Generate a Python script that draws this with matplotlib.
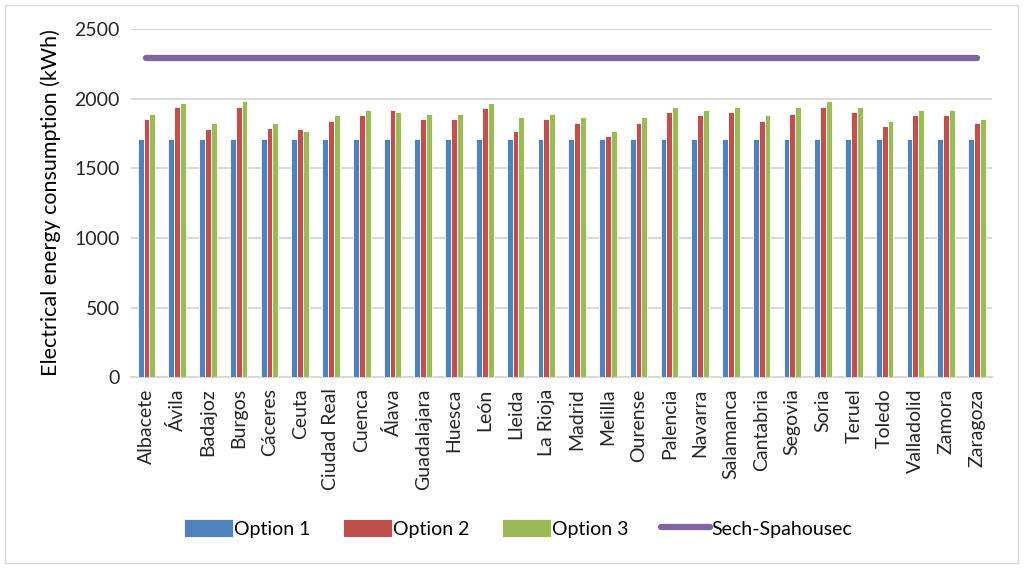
import numpy as np
import matplotlib
matplotlib.use("Agg")
import matplotlib.pyplot as plt
from matplotlib.patches import Rectangle

plt.rcParams['font.family'] = ['Lato', 'DejaVu Sans']

cities = ["Albacete", "Ávila", "Badajoz", "Burgos", "Cáceres", "Ceuta", "Ciudad Real",
          "Cuenca", "Álava", "Guadalajara", "Huesca", "León", "Lleida", "La Rioja",
          "Madrid", "Melilla", "Ourense", "Palencia", "Navarra", "Salamanca",
          "Cantabria", "Segovia", "Soria", "Teruel", "Toledo", "Valladolid",
          "Zamora", "Zaragoza"]
option1 = [1710] * len(cities)
option2 = [1853, 1942, 1779, 1942, 1791, 1779, 1841, 1880, 1916, 1853, 1853, 1930,
           1765, 1853, 1827, 1729, 1827, 1904, 1880, 1904, 1841, 1892, 1942, 1904,
           1803, 1880, 1880, 1827]
option3 = [1892, 1966, 1827, 1981, 1827, 1765, 1880, 1916, 1904, 1892, 1892, 1966,
           1865, 1892, 1865, 1765, 1865, 1942, 1916, 1942, 1880, 1942, 1981, 1942,
           1841, 1916, 1916, 1853]
sech = [2290] * len(cities)

c_blue = "#4F81BD"
c_red = "#C0504D"
c_green = "#9BBB59"
c_purple = "#8064A2"

fig = plt.figure(figsize=(10.24, 5.68), dpi=100)
ax = fig.add_axes([0.128, 0.336, 0.841, 0.613])

x = np.arange(len(cities))
w = 0.19
b1 = ax.bar(x - w, option1, w, color=c_blue, edgecolor="white", linewidth=0.6, label="Option 1", zorder=3)
b2 = ax.bar(x, option2, w, color=c_red, edgecolor="white", linewidth=0.6, label="Option 2", zorder=3)
b3 = ax.bar(x + w, option3, w, color=c_green, edgecolor="white", linewidth=0.6, label="Option 3", zorder=3)
ln, = ax.plot(x, sech, color=c_purple, linewidth=4.5, solid_capstyle="round", label="Sech-Spahousec", zorder=4)

ax.set_xlim(-0.5, len(cities) - 0.5)
ax.set_ylim(0, 2500)
ax.set_yticks(np.arange(0, 2501, 500))
ax.yaxis.grid(True, color="#d9d9d9", linewidth=1.5, zorder=0)
ax.set_axisbelow(True)
for s in ["top", "right", "left"]:
    ax.spines[s].set_visible(False)
ax.spines["bottom"].set_color("#d9d9d9")
ax.spines["bottom"].set_linewidth(1.5)
ax.tick_params(axis="both", length=0, labelsize=14, colors="#262626", pad=8)
ax.set_xticks(x)
ax.set_xticklabels(cities, rotation=90)
ax.set_ylabel("Electrical energy consumption (kWh)", fontsize=15.5, color="black", labelpad=10)

fig.legend([b1, b2, b3, ln], ["Option 1", "Option 2", "Option 3", "Sech-Spahousec"],
           loc="center", bbox_to_anchor=(0.506, 0.07), ncol=4, frameon=False,
           fontsize=14, handlelength=2.5, handleheight=1.1, columnspacing=1.65,
           handletextpad=0.1)

fig.patches.append(Rectangle((0.005, 0.008), 0.989, 0.983, transform=fig.transFigure,
                             fill=False, edgecolor="#d9d9d9", linewidth=1))

fig.savefig("out.png", dpi=100)
